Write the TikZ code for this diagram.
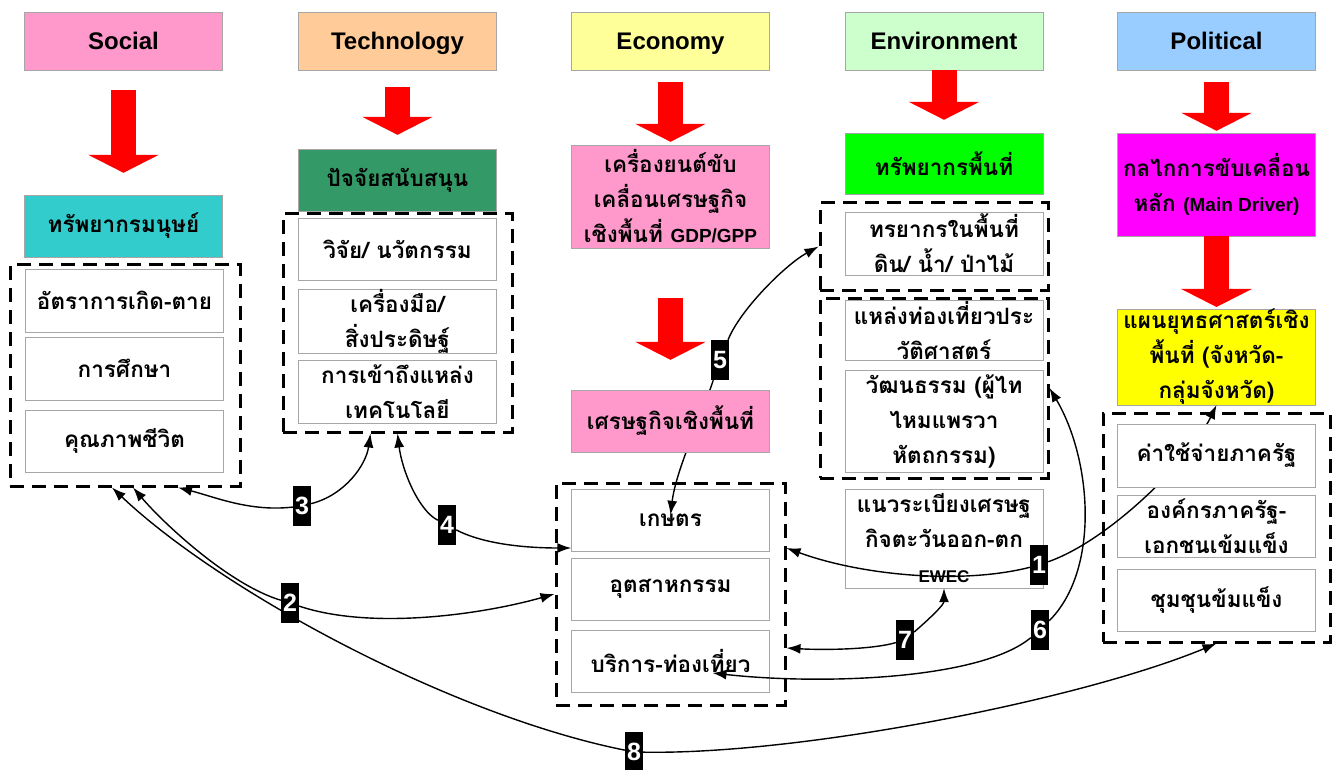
\documentclass[tikz,border=0pt]{standalone}
\usepackage{fontspec}
\setmainfont{Liberation Sans}
\newfontfamily\thaifont[Script=Thai]{Loma}
\newfontfamily\latinfont{Liberation Sans}
\usetikzlibrary{arrows.meta}
\pgfdeclarelayer{front}
\pgfsetlayers{main,front}

\newcommand{\lat}[1]{{\latinfont\fontsize{19}{22}\selectfont #1}}

\tikzset{
  head/.style={draw=gray!70, minimum width=198pt, minimum height=58pt, inner sep=0pt, text height=20pt, text depth=2pt, font=\bfseries\fontsize{24}{28}\selectfont},
  topic/.style={draw=gray!70, minimum width=198pt, inner sep=0pt, align=center, font=\thaifont\bfseries\fontsize{22.5}{35}\selectfont},
  item/.style={topic, fill=white},
  grp/.style={draw, line width=3pt, dash pattern=on 14pt off 8pt, inner sep=0pt},
  tag/.style={fill=black, text=white, minimum width=18pt, minimum height=40pt, inner sep=0pt, font=\bfseries\fontsize{25}{28}\selectfont},
  conn/.style={line width=1.4pt, -{Latex[length=14pt,width=10pt]}},
  blockarr/.style={line width=25pt, red, -{Triangle[length=18pt,width=70pt]}},
}

\begin{document}
\begin{tikzpicture}[x=1pt, y=-1pt]
\useasboundingbox (0,0) rectangle (1339,770);

% five headers
\node[head, fill={rgb,255:red,255;green,153;blue,204}] (soc) at (123.5,41) {Social};
\node[head, fill={rgb,255:red,255;green,204;blue,153}] (tech) at (397.5,41) {Technology};
\node[head, fill={rgb,255:red,255;green,255;blue,153}] (eco) at (670.5,41) {Economy};
\node[head, fill={rgb,255:red,204;green,255;blue,204}] (env) at (944,41) {Environment};
\node[head, fill={rgb,255:red,153;green,204;blue,255}] (pol) at (1216.5,41) {Political};

% topics
\node[topic, fill={rgb,255:red,51;green,204;blue,204}, minimum height=62pt] (humres) at (123.5,226) {ทรัพยากรมนุษย์};
\node[topic, fill={rgb,255:red,51;green,153;blue,102}, minimum height=62pt] (support) at (397.5,180) {ปัจจัยสนับสนุน};
\node[topic, fill={rgb,255:red,255;green,153;blue,204}, minimum height=103pt] (engine) at (670.5,196.5) {เครื่องยนต์ขับ\\เคลื่อนเศรษฐกิจ\\เชิงพื้นที่ \lat{GDP/GPP}};
\node[topic, fill={rgb,255:red,0;green,255;blue,0}, minimum height=61pt] (landres) at (944,163.5) {ทรัพยากรพื้นที่};
\node[topic, fill={rgb,255:red,255;green,0;blue,255}, minimum height=103pt] (driver) at (1216.5,184.5) {กลไกการขับเคลื่อน\\หลัก \lat{(Main Driver)}};
\node[topic, fill={rgb,255:red,255;green,255;blue,0}, minimum height=90pt] (plan) at (1216.5,357) {แผนยุทธศาสตร์เชิง\\พื้นที่ (จังหวัด-\\กลุ่มจังหวัด)};

% dashed groups
\node[grp, minimum width=230pt, minimum height=221pt] (socgrp) at (125,375.5) {};
\node[grp, minimum width=229pt, minimum height=218pt] (techgrp) at (397.5,323) {};
\node[grp, minimum width=229pt, minimum height=222pt] (ecogrp) at (670.5,594) {};
\node[grp, minimum width=228pt, minimum height=87pt] (envgrp1) at (934,246.5) {};
\node[grp, minimum width=228pt, minimum height=180pt] (envgrp2) at (934,388) {};
\node[grp, minimum width=227pt, minimum height=229pt] (polgrp) at (1216.5,527.5) {};

% items
\node[item, minimum height=63pt] (birth) at (124.5,300.5) {อัตราการเกิด-ตาย};
\node[item, minimum height=63pt] (edu) at (124.5,368.5) {การศึกษา};
\node[item, minimum height=62pt] (life) at (124.5,441) {คุณภาพชีวิต};
\node[item, minimum height=62pt] (research) at (397.5,249) {วิจัย/ นวัตกรรม};
\node[item, minimum height=63pt] (tools) at (397.5,321.5) {เครื่องมือ/\\สิ่งประดิษฐ์};
\node[item, minimum height=63pt] (access) at (397.5,391.5) {การเข้าถึงแหล่ง\\เทคโนโลยี};
\node[item, minimum height=62pt] (agri) at (670.5,520) {เกษตร};
\node[item, minimum height=62pt] (indus) at (670.5,589) {อุตสาหกรรม};
\node[item, minimum height=62pt] (svc) at (670.5,661) {บริการ-ท่องเที่ยว};
\node[item, minimum height=63pt] (landin) at (944,243.5) {ทรยากรในพื้นที่\\ดิน/ น้ำ/ ป่าไม้};
\node[item, minimum height=60pt] (hist) at (944,330) {แหล่งท่องเที่ยวประ\\วัติศาสตร์};
\node[item, minimum height=102pt] (culture) at (944,421) {วัฒนธรรม (ผู้ไท\\ไหมแพรวา\\หัตถกรรม)};
\node[item, minimum height=99pt] (ewec) at (944,538.5) {แนวระเบียงเศรษฐ\\กิจตะวันออก-ตก\\\lat{\fontsize{17}{20}\selectfont EWEC}};
\node[item, minimum height=62pt] (org) at (1216.5,526) {องค์กรภาครัฐ-\\เอกชนเข้มแข็ง};
\node[item, minimum height=62pt] (comm) at (1216.5,600) {ชุมชุนข้มแข็ง};

\begin{pgfonlayer}{front}
\node[topic, fill={rgb,255:red,255;green,153;blue,204}, minimum height=62pt] (areaeco) at (670.5,421) {เศรษฐกิจเชิงพื้นที่};
\node[item, minimum height=63pt] (spend) at (1216.5,455.5) {ค่าใช้จ่ายภาครัฐ};
\node[tag] (t1) at (1039,565) {1};
\node[tag] (t2) at (290,603) {2};
\node[tag] (t3) at (302,506) {3};
\node[tag] (t4) at (447,525) {4};
\node[tag] (t5) at (720,360) {5};
\node[tag] (t6) at (1040,630) {6};
\node[tag] (t7) at (905,640) {7};
\node[tag] (t8) at (634,752) {8};
\end{pgfonlayer}

% red block arrows
\draw[blockarr] ([yshift=-20pt]soc.south) -- ([yshift=22pt]humres.north);
\draw[blockarr] ([yshift=-17pt]tech.south) -- ([yshift=14pt]support.north);
\draw[blockarr] ([yshift=-12pt]eco.south) -- ([yshift=3pt]engine.north);
\draw[blockarr] (env.south) -- ([yshift=13pt]landres.north);
\draw[blockarr] ([yshift=-12pt]pol.south) -- ([yshift=2pt]driver.north);
\draw[blockarr] (driver.south) -- ([yshift=2pt]plan.north);
\draw[blockarr] ([yshift=-50pt]engine.south) -- ([yshift=30pt]areaeco.north);

% numbered links
\draw[conn] (t1) .. controls (960,585) and (860,575) .. ([yshift=46pt]ecogrp.east);
\draw[conn] (t1) .. controls (1110,540) and (1190,460) .. (plan.south);
\draw[conn] (t2) .. controls (230,585) and (165,525) .. ([xshift=8pt]socgrp.south);
\draw[conn] (t2) .. controls (370,630) and (480,615) .. (ecogrp.west);
\draw[conn] (t3) .. controls (250,512) and (215,497) .. ([xshift=53pt]socgrp.south);
\draw[conn] (t3) .. controls (345,495) and (366,465) .. ([xshift=-27pt]techgrp.south);
\draw[conn] (t4) .. controls (418,510) and (402,470) .. (techgrp.south);
\draw[conn] (t4) .. controls (485,545) and (530,548) .. ([yshift=-28pt]agri.west);
\draw[conn] (t5) .. controls (740,310) and (785,265) .. (envgrp1.west);
\draw[conn] (t5) .. controls (700,420) and (676,470) .. ([yshift=-26pt]agri.north);
\draw[conn] (t6) .. controls (1100,570) and (1092,460) .. (envgrp2.east);
\draw[conn] (t6) .. controls (980,680) and (820,685) .. ([xshift=42pt,yshift=-12pt]svc.center);
\draw[conn] (t7) .. controls (928,620) and (944,605) .. (ewec.south);
\draw[conn] (t7) .. controls (870,650) and (820,650) .. ([yshift=-54pt]ecogrp.east);
\draw[conn] (t8) .. controls (450,715) and (220,590) .. ([xshift=-13pt]socgrp.south);
\draw[conn] (t8) .. controls (800,755) and (1080,700) .. (polgrp.south);
\end{tikzpicture}
\end{document}
